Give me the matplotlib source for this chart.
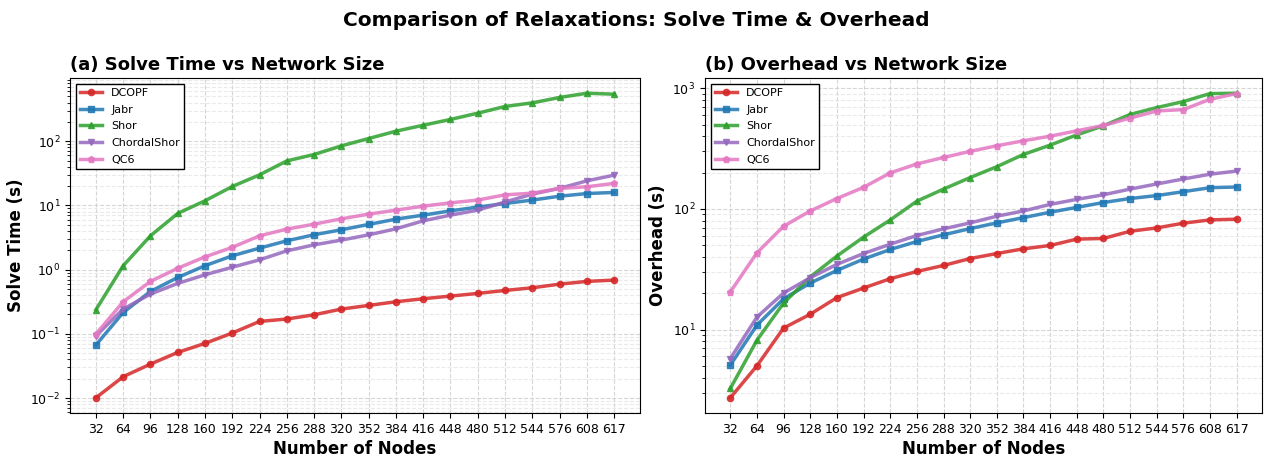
import matplotlib
matplotlib.use("Agg")
import matplotlib.pyplot as plt
import numpy as np

nodes = [32, 64, 96, 128, 160, 192, 224, 256, 288, 320, 352, 384, 416, 448, 480, 512, 544, 576, 608, 617]

# solve time (s)
solve_dcopf = [0.0101, 0.0215, 0.0338, 0.0514, 0.071, 0.103, 0.156, 0.170, 0.198, 0.243, 0.277, 0.316,
               0.352, 0.387, 0.426, 0.474, 0.521, 0.594, 0.655, 0.687]
solve_jabr = [0.067, 0.215, 0.457, 0.755, 1.15, 1.64, 2.16, 2.81, 3.49, 4.17, 5.05, 6.11,
              7.05, 8.23, 9.4, 10.7, 12.1, 13.9, 15.3, 15.9]
solve_shor = [0.237, 1.15, 3.36, 7.5, 11.8, 19.7, 29.9, 49.3, 62, 84.5, 110, 143,
              177, 218, 273, 347, 395, 479, 558, 539]
solve_chordal = [0.093, 0.243, 0.416, 0.61, 0.83, 1.09, 1.42, 1.96, 2.43, 2.88, 3.48, 4.32,
                 5.75, 7.05, 8.43, 11.3, 15.0, 18.4, 24.1, 29.6]
solve_qc6 = [0.099, 0.316, 0.655, 1.05, 1.58, 2.22, 3.36, 4.27, 5.1, 6.18, 7.31, 8.43,
             9.73, 10.96, 12.1, 14.6, 15.5, 18.4, 19.5, 22.0]

# overhead (s)
over_dcopf = [2.72, 5.01, 10.3, 13.4, 18.4, 22.1, 26.4, 30.3, 34.0, 38.8, 42.7, 46.7,
              49.8, 56.2, 56.9, 65.3, 69.6, 76.2, 81.1, 82.2]
over_jabr = [5.07, 10.9, 18.0, 24.3, 30.9, 38.4, 46.1, 53.7, 61, 68.7, 76.6, 84.7,
             93.9, 103, 113, 122, 129, 139, 150, 152]
over_shor = [3.25, 8.17, 16.6, 27.3, 40.7, 58.4, 81, 116, 146, 182, 224, 283,
             338, 411, 489, 607, 692, 776, 904, 910]
over_chordal = [5.75, 12.7, 20.1, 26.9, 34.7, 42.7, 51, 60.2, 68.4, 76.6, 87, 96.2,
                109, 120, 131, 146, 161, 177, 194, 206]
over_qc6 = [20.5, 43.3, 71.9, 96.2, 122, 151, 199, 236, 267, 300, 334, 367,
            401, 444, 492, 566, 649, 666, 811, 904]

names = ["DCOPF", "Jabr", "Shor", "ChordalShor", "QC6"]
colors = ["#d62728", "#1f77b4", "#2ca02c", "#9467bd", "#e377c2"]
markers = ["o", "s", "^", "v", "p"]

solve = [solve_dcopf, solve_jabr, solve_shor, solve_chordal, solve_qc6]
over = [over_dcopf, over_jabr, over_shor, over_chordal, over_qc6]

x = np.arange(len(nodes))

W, H = 1273, 457
fig = plt.figure(figsize=(W / 100, H / 100), dpi=100)
ax1 = fig.add_axes([70 / W, 44 / H, 570 / W, 335 / H])
ax2 = fig.add_axes([705 / W, 44 / H, 557 / W, 335 / H])

panels = [
    (ax1, solve, "(a) Solve Time vs Network Size", "Solve Time (s)"),
    (ax2, over, "(b) Overhead vs Network Size", "Overhead (s)"),
]

for ax, data, title, ylabel in panels:
    for vals, name, c, m in zip(data, names, colors, markers):
        ax.plot(x, vals, color=c, marker=m, markersize=4.5, linewidth=2.5, alpha=0.85, label=name)
    ax.set_yscale("log")
    ax.set_xticks(x)
    ax.set_xticklabels([str(n) for n in nodes])
    ax.tick_params(axis="both", which="major", labelsize=9)
    ax.set_xlabel("Number of Nodes", fontsize=12, fontweight="bold", labelpad=3)
    ax.set_ylabel(ylabel, fontsize=12, fontweight="bold")
    ax.set_title(title, fontsize=13, fontweight="bold", loc="left", pad=6)
    ax.grid(True, which="major", linestyle="--", color="#cccccc", alpha=0.8)
    ax.grid(True, which="minor", linestyle="--", color="#dddddd", alpha=0.6)
    ax.set_axisbelow(True)
    leg = ax.legend(loc="upper left", fontsize=8, frameon=True, fancybox=False, framealpha=1,
                    labelspacing=0.6)
    leg.get_frame().set_edgecolor("black")

fig.suptitle("Comparison of Relaxations: Solve Time & Overhead", fontsize=14.5, fontweight="bold", y=0.975)
fig.savefig("out.png", dpi=100)
